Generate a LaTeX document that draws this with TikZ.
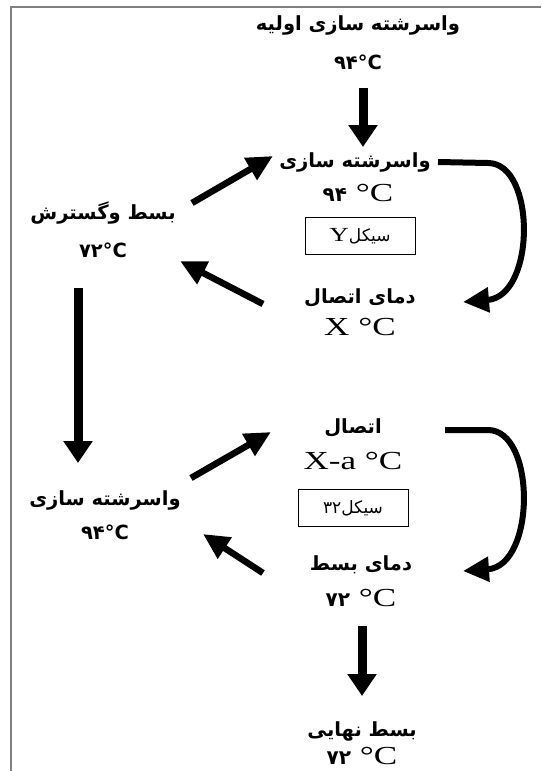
\documentclass[tikz,border=0pt]{standalone}
\usepackage{fontspec}
\setmainfont{Liberation Serif}[FakeStretch=1.35]
\newfontfamily\fa[Script=Arabic]{DejaVu Sans}
\TeXXeTstate=1
\usetikzlibrary{arrows.meta}
\begin{document}
\begin{tikzpicture}[x=1pt,y=-1pt,
  fa/.style={font=\fa\bfseries\fontsize{19.5}{23}\selectfont, inner sep=0pt},
  ser/.style={font=\fontsize{26}{28}\selectfont, inner sep=0pt},
  cyc/.style={draw, line width=0.6pt, font=\fontsize{20}{22}\selectfont, minimum width=110pt, minimum height=37pt, inner sep=0pt},
  vert/.style={line width=9pt, -{Triangle[length=22pt,width=28pt]}},
  diag/.style={line width=6.5pt, -{Triangle[length=26pt,width=24pt]}},
  loop/.style={line width=6pt, -{Triangle[length=26pt,width=24pt]}},
  frame/.style={draw=gray, line width=1.3pt}]
\useasboundingbox (0,0) rectangle (541,771);
\draw[frame] (541,7) -- (11,7) -- (11,771);

% nodes
\node[fa] (t1) at (358,25) {\beginR واسرشته سازی اولیه\endR};
\node[fa] (t1c) at (358,62) {۹۴°C};
\node[fa] (d1) at (355,162) {\beginR واسرشته سازی\endR};
\node[ser] (d1c) at (358,193) {{\fa\bfseries\fontsize{20}{24}\selectfont ۹۴} °C};
\node[cyc] (cy) at (360,236) {Y{\fa\fontsize{17}{19}\selectfont\beginR سیکل\endR}};
\node[fa] (a1) at (360,298) {\beginR دمای اتصال\endR};
\node[ser] (a1c) at (360,327) {X °C};
\node[fa] (e1) at (103,213) {\beginR بسط وگسترش\endR};
\node[fa] (e1c) at (103,250) {۷۲°C};
\node[fa] (d2) at (105,500) {\beginR واسرشته سازی\endR};
\node[fa] (d2c) at (105,532) {۹۴°C};
\node[fa] (a2) at (353,428) {\beginR اتصال\endR};
\node[ser] (a2c) at (353,461) {X-a °C};
\node[cyc] (c32) at (353,508) {{\fa\fontsize{17}{19}\selectfont ۳۲\beginR سیکل\endR}};
\node[fa] (b2) at (361,565) {\beginR دمای بسط\endR};
\node[ser] (b2c) at (361,598) {{\fa\bfseries\fontsize{20}{24}\selectfont ۷۲} °C};
\node[fa] (f) at (362,731) {\beginR بسط نهایی\endR};
\node[ser] (fc) at (362,756) {{\fa\bfseries\fontsize{20}{24}\selectfont ۷۲} °C};

% connector ends
\coordinate (v1s) at (363,88);  \coordinate (v1e) at (363,147);
\coordinate (v2s) at (78,288);  \coordinate (v2e) at (78,463);
\coordinate (v3s) at (362,626); \coordinate (v3e) at (362,696);
\coordinate (g1s) at (192,203); \coordinate (g1e) at (273,156);
\coordinate (g2s) at (263,304); \coordinate (g2e) at (180,261);
\coordinate (g3s) at (191,478); \coordinate (g3e) at (271,432);
\coordinate (g4s) at (263,573); \coordinate (g4e) at (203,534);
\coordinate (l1s) at (438,162); \coordinate (l1m) at (488,163); \coordinate (l1e) at (463,302);
\coordinate (l2s) at (445,430); \coordinate (l2m) at (488,430); \coordinate (l2e) at (463,571);

% connectors
\draw[vert] (v1s) -- (v1e);
\draw[vert] (v2s) -- (v2e);
\draw[vert] (v3s) -- (v3e);
\draw[diag] (g1s) -- (g1e);
\draw[diag] (g2s) -- (g2e);
\draw[diag] (g3s) -- (g3e);
\draw[diag] (g4s) -- (g4e);
\draw[loop] (l1s) -- (l1m) .. controls (536,163) and (536,296) .. (l1e);
\draw[loop] (l2s) -- (l2m) .. controls (536,430) and (536,566) .. (l2e);
\end{tikzpicture}
\end{document}
